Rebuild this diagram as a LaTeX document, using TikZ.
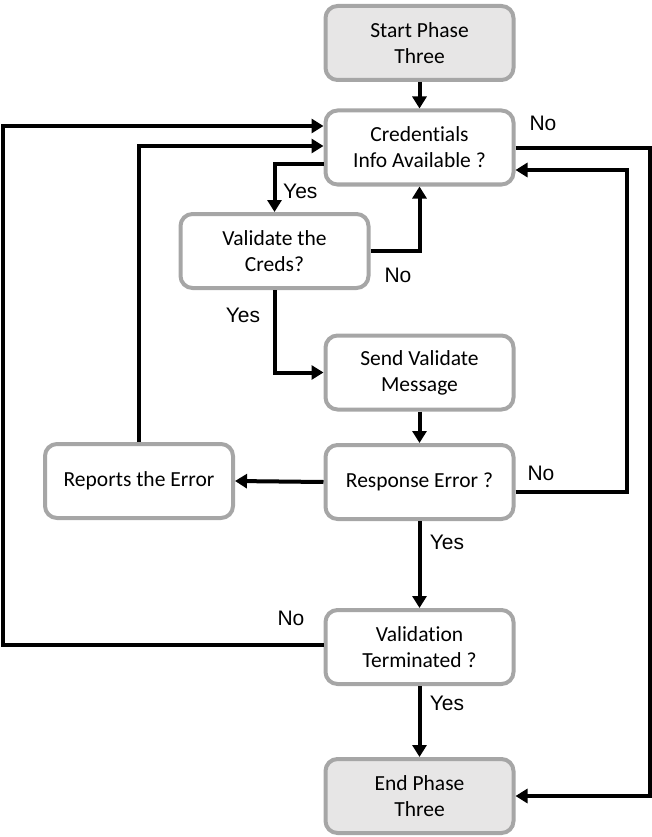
\documentclass[tikz,border=0pt]{standalone}
\usepackage{fontspec}
\setmainfont[Ligatures=NoCommon]{Carlito}
\newfontfamily\labelfont{Liberation Sans}
\usetikzlibrary{arrows.meta}
\definecolor{boxgray}{HTML}{A6A6A6}
\definecolor{termgray}{HTML}{E7E6E6}
\begin{document}
\begin{tikzpicture}[
  box/.style={draw=boxgray, line width=4pt, rounded corners=12pt, fill=white,
    minimum width=188pt, minimum height=74pt, align=center, inner sep=0pt,
    font=\fontsize{21.5}{26}\selectfont},
  term/.style={box, fill=termgray},
  arr/.style={line width=4pt, -{Triangle[length=12pt,width=14pt]}},
  lab/.style={font=\labelfont\fontsize{21}{24}\selectfont, inner sep=0pt}
]
\useasboundingbox (0,0) rectangle (652pt,-837pt);

\node[term] (start) at (419.5pt,-43pt) {Start Phase\\Three};
\node[box] (creds) at (419.5pt,-147.5pt) {Credentials\\Info Available ?};
\node[box] (validate) at (274.5pt,-251pt) {Validate the\\Creds?};
\node[box] (send) at (419.5pt,-372.5pt) {Send Validate\\Message};
\node[box] (resp) at (419.5pt,-482pt) {Response Error ?};
\node[box] (report) at (139pt,-481pt) {Reports the Error};
\node[box] (term) at (419.5pt,-647pt) {Validation\\Terminated ?};
\node[term] (end) at (419.5pt,-796pt) {End Phase\\Three};

\coordinate (leftA) at (3pt,-126pt);
\coordinate (rightA) at (650pt,-148pt);
\coordinate (rightB) at (627pt,-170pt);

% start -> creds
\draw[arr] (start.south) -- (creds.north);
% creds yes -> validate
\draw[arr] ([yshift=-16.5pt]creds.west) -| (validate.north);
\node[lab, anchor=west] (y1) at (283pt,-191pt) {Yes};
% validate no -> creds
\draw[arr] (validate.east) -| (creds.south);
\node[lab] (n1) at (398pt,-275pt) {No};
% validate yes -> send
\draw[arr] (validate.south) |- (send.west);
\node[lab] (y2) at (243pt,-315pt) {Yes};
% send -> resp
\draw[arr] (send.south) -- (resp.north);
% resp -> report
\draw[arr] (resp.west) -- (report.east);
% report -> creds
\draw[arr] (report.north) |- ([yshift=1.5pt]creds.west);
% resp no -> creds
\draw[arr] ([yshift=-10pt]resp.east) -| (rightB) -- ([yshift=-22.5pt]creds.east);
\node[lab] (n2) at (541pt,-473pt) {No};
% creds no -> end
\draw[arr] (creds.east |- rightA) -| (end.east -| rightA) -- (end.east);
\node[lab] (n3) at (543pt,-123pt) {No};
% resp yes -> term
\draw[arr] (resp.south) -- (term.north);
\node[lab] (y3) at (447pt,-542pt) {Yes};
% term no -> creds
\draw[arr] ([yshift=2pt]term.west) -| (leftA) -- (creds.west |- leftA);
\node[lab] (n4) at (291pt,-618pt) {No};
% term yes -> end
\draw[arr] (term.south) -- (end.north);
\node[lab] (y4) at (447pt,-703pt) {Yes};
\end{tikzpicture}
\end{document}
